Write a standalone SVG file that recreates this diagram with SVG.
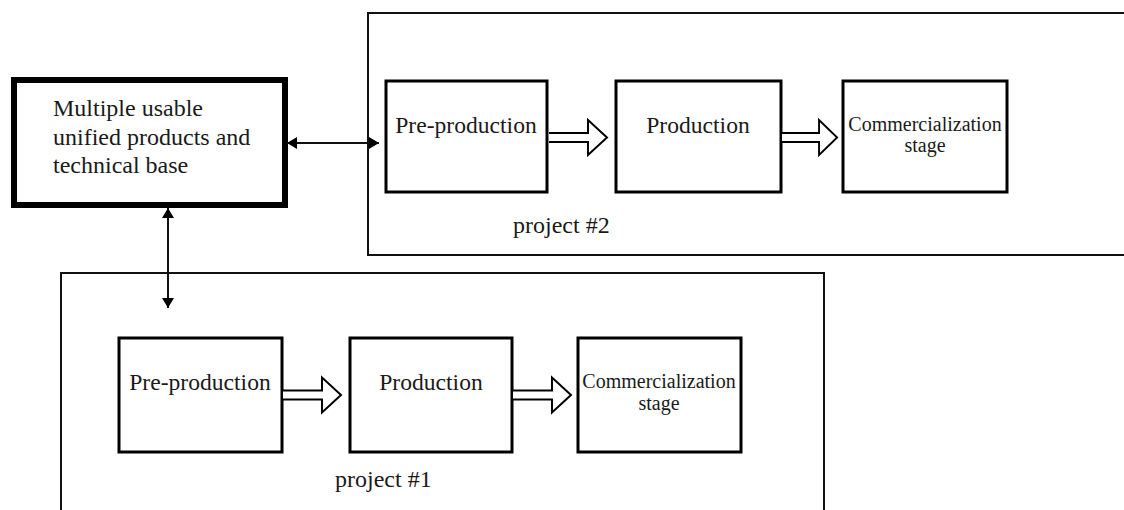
<svg xmlns="http://www.w3.org/2000/svg" width="1124" height="510" viewBox="0 0 1124 510">
  <style>
    .frame { fill: none; stroke: #111; stroke-width: 2; }
    .base { fill: #fff; stroke: #000; stroke-width: 6; }
    .stage { fill: #fff; stroke: #000; stroke-width: 3; }
    .txt { font-family: "Liberation Serif", "Times New Roman", serif; fill: #1a1a1a; }
    .big { font-size: 23.6px; }
    .lead { font-size: 24px; }
    .small { font-size: 20px; }
    .mid { text-anchor: middle; }
    .link { stroke: #111; stroke-width: 2; fill: none; }
    .flow { fill: #fff; stroke: #000; stroke-width: 2; stroke-linejoin: miter; }
  </style>
  <defs>
    <marker id="tip" viewBox="0 0 10 12" refX="10" refY="6" markerWidth="10" markerHeight="12" markerUnits="userSpaceOnUse" orient="auto-start-reverse">
      <path d="M0,0 L10,6 L0,12 Z" fill="#000"/>
    </marker>
    <path id="hollow" d="M0,-4.5 L39,-4.5 L39,-17.5 L58,0 L39,17.5 L39,4.5 L0,4.5"/>
  </defs>

  <rect width="1124" height="510" fill="#fff"/>

  <!-- project frames -->
  <g id="project2">
    <rect class="frame" x="368" y="13" width="800" height="242"/>
    <text class="txt lead" x="513" y="233">project #2</text>
  </g>
  <g id="project1">
    <rect class="frame" x="61" y="273" width="763" height="260"/>
    <text class="txt lead" x="335" y="487">project #1</text>
  </g>

  <!-- shared base -->
  <g id="base">
    <rect class="base" x="14" y="80" width="271" height="125"/>
    <text class="txt lead" x="53" y="116">Multiple usable</text>
    <text class="txt lead" x="53" y="144.5">unified products and</text>
    <text class="txt lead" x="53" y="173">technical base</text>
  </g>

  <!-- project #2 stages -->
  <g id="p2-preproduction">
    <rect class="stage" x="386" y="81" width="161" height="111"/>
    <text class="txt big mid" x="466" y="133">Pre-production</text>
  </g>
  <g id="p2-production">
    <rect class="stage" x="616" y="81" width="165" height="111"/>
    <text class="txt big mid" x="698" y="133">Production</text>
  </g>
  <g id="p2-commercialization">
    <rect class="stage" x="843" y="81" width="164" height="111"/>
    <text class="txt small mid" x="925" y="131">Commercialization</text>
    <text class="txt small mid" x="925" y="152">stage</text>
  </g>

  <!-- project #1 stages -->
  <g id="p1-preproduction">
    <rect class="stage" x="119" y="338" width="163" height="114"/>
    <text class="txt big mid" x="200" y="390">Pre-production</text>
  </g>
  <g id="p1-production">
    <rect class="stage" x="350" y="338" width="162" height="114"/>
    <text class="txt big mid" x="431" y="390">Production</text>
  </g>
  <g id="p1-commercialization">
    <rect class="stage" x="578" y="338" width="163" height="114"/>
    <text class="txt small mid" x="659" y="388">Commercialization</text>
    <text class="txt small mid" x="659" y="410">stage</text>
  </g>

  <!-- connectors -->
  <g id="connectors">
    <line class="link" x1="287" y1="143" x2="379" y2="143" marker-start="url(#tip)" marker-end="url(#tip)"/>
    <line class="link" x1="168" y1="208" x2="168" y2="308" marker-start="url(#tip)" marker-end="url(#tip)"/>
    <use href="#hollow" class="flow" transform="translate(549,137.5)"/>
    <use href="#hollow" class="flow" transform="translate(782,137.5) scale(0.95,1)"/>
    <use href="#hollow" class="flow" transform="translate(283,395)"/>
    <use href="#hollow" class="flow" transform="translate(513,395)"/>
  </g>
</svg>
